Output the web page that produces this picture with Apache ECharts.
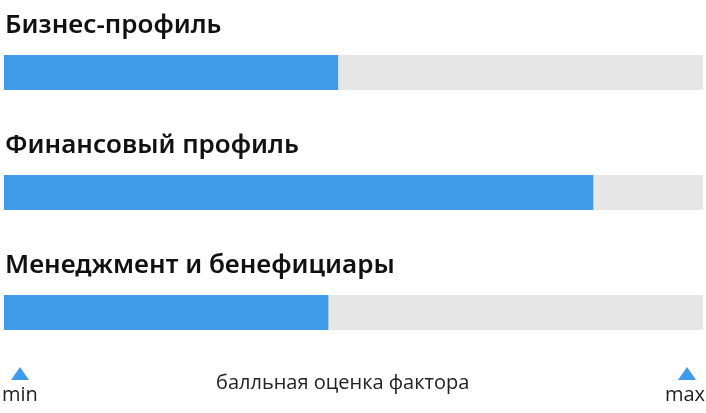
<!DOCTYPE html>
<html>
<head>
<meta charset="utf-8">
<script src="https://cdn.jsdelivr.net/npm/echarts@6/dist/echarts.min.js"></script>
<style>
  html, body { margin: 0; padding: 0; background: #fff; }
  #chart { width: 706px; height: 413px; }
</style>
</head>
<body>
<div id="chart"></div>
<script>
// факторы и их балльная оценка (шкала 0..100)
var factors = ['Бизнес-профиль', 'Финансовый профиль', 'Менеджмент и бенефициары'];
var scores = [47.8, 84.3, 46.4];
var scaleLabels = ['min', 'max'];
var axisCaption = 'балльная оценка фактора';

var barTop = [55, 175, 295];
var BLUE = '#3d9be9';

var grids = [], xAxes = [], yAxes = [], series = [], titles = [];
for (var i = 0; i < factors.length; i++) {
    grids.push({ left: 4, right: 3, top: barTop[i], height: 35 });
    xAxes.push({ type: 'value', gridIndex: i, min: 0, max: 100, show: false });
    yAxes.push({ type: 'category', gridIndex: i, data: [factors[i]], show: false });
    series.push({
        type: 'bar',
        xAxisIndex: i,
        yAxisIndex: i,
        data: [scores[i]],
        barWidth: 35,
        showBackground: true,
        backgroundStyle: { color: '#e6e6e6' },
        itemStyle: { color: BLUE },
        silent: true
    });
    titles.push({
        text: factors[i],
        left: 5,
        top: barTop[i] - 42,
        padding: 0,
        textStyle: { fontFamily: 'Noto Sans', fontWeight: 600, fontSize: 26, color: '#111' }
    });
}

var myChart = echarts.init(document.getElementById('chart'), null, { renderer: 'canvas' });
var option = {
    backgroundColor: '#fff',
    animation: false,
    title: titles,
    grid: grids,
    xAxis: xAxes,
    yAxis: yAxes,
    series: series,
    graphic: [
        // маркеры шкалы
        { type: 'polygon', shape: { points: [[20, 367], [11, 380], [29, 380]] }, style: { fill: BLUE } },
        { type: 'polygon', shape: { points: [[687, 367], [678, 380], [696, 380]] }, style: { fill: BLUE } },
        { type: 'text', left: 2, top: 385, style: { text: scaleLabels[0], font: '20px "Open Sans"', fill: '#222' } },
        { type: 'text', right: 1, top: 385, style: { text: scaleLabels[1], font: '20px "Open Sans"', fill: '#222' } },
        { type: 'text', left: 216, top: 373, style: { text: axisCaption, font: '20px "Open Sans"', fill: '#222' } }
    ]
};
myChart.setOption(option);
window.onresize = myChart.resize;
</script>
</body>
</html>
